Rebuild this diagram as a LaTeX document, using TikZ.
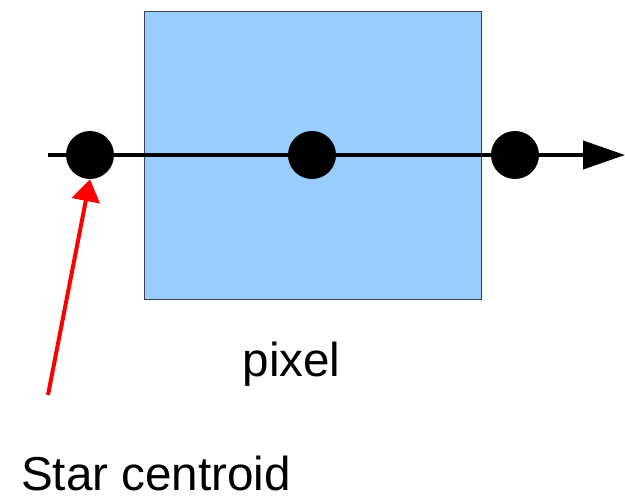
\documentclass[tikz,border=0pt]{standalone}
\usepackage{fontspec}
\setmainfont{Liberation Sans}
\usetikzlibrary{arrows.meta}
\definecolor{pixelblue}{HTML}{99CCFF}
\definecolor{pixeledge}{HTML}{3A3F4A}
\tikzset{
  pixelbox/.style={draw=pixeledge, line width=1pt, fill=pixelblue,
    minimum width=337pt, minimum height=288pt, inner sep=0pt},
  centroid/.style={circle, fill=black, minimum size=48pt, inner sep=0pt},
  axisline/.style={line width=4pt, -{Triangle[length=42pt,width=28pt]}},
  pointer/.style={red, line width=4pt, -{Triangle[length=22pt,width=28pt]}},
  caption/.style={font=\fontsize{47.6}{50}\selectfont, inner sep=0pt, anchor=base}
}
\begin{document}
\begin{tikzpicture}[x=1pt, y=-1pt]
  \useasboundingbox (0,0) rectangle (625,500);
  % the pixel
  \node[pixelbox] (pixel) at (312.5,156) {};
  % scan line through the pixel
  \coordinate (lineStart) at (48,155);
  \coordinate (lineEnd) at (625,155);
  \draw[axisline] (lineStart) -- (lineEnd);
  % sample positions along the line
  \node[centroid] (dotL) at (90,155) {};
  \node[centroid] (dotC) at (312,155) {};
  \node[centroid] (dotR) at (515,155) {};
  % labels
  \node[caption] (pixlabel) at (291.5,377) {pixel};
  \node[caption, anchor=base west] (starlabel) at (21,490) {Star centroid};
  % pointer to the star centroid
  \coordinate (redTail) at (48,395);
  \draw[pointer] (redTail) -- (dotL.south);
\end{tikzpicture}
\end{document}
